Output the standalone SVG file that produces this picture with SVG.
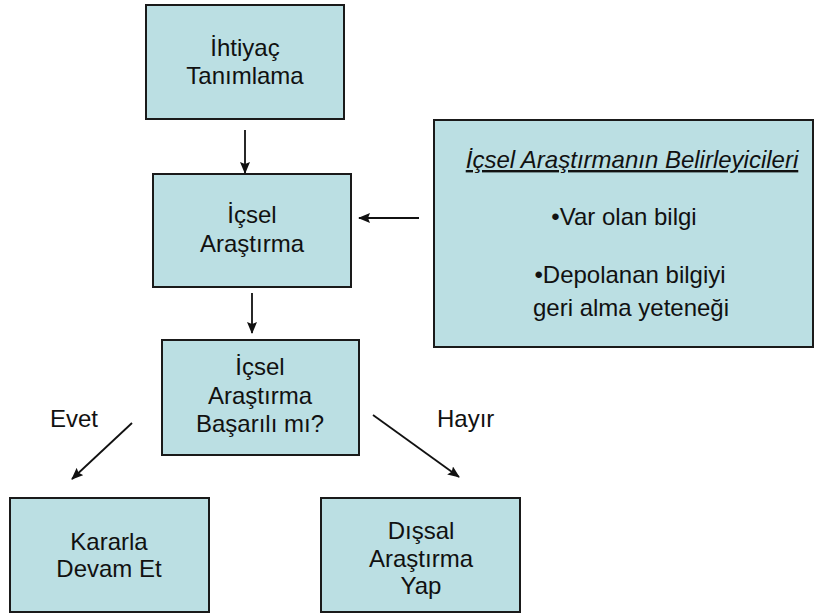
<svg xmlns="http://www.w3.org/2000/svg" width="815" height="615" viewBox="0 0 815 615">
  <style>
    .box { fill: #bbdfe3; stroke: #1a1a1a; stroke-width: 2; }
    .lbl { font-family: "Liberation Sans", Arial, sans-serif; font-size: 24px; fill: #111; text-anchor: middle; }
    .side { font-family: "Liberation Sans", Arial, sans-serif; font-size: 24px; fill: #111; }
    .edge { stroke: #111; stroke-width: 1.8; fill: none; marker-end: url(#arrow); }
  </style>
  <defs>
    <marker id="arrow" viewBox="0 0 12 10" refX="11" refY="5" markerWidth="12" markerHeight="10" orient="auto" markerUnits="userSpaceOnUse">
      <path d="M0,0 L12,5 L0,10 L2,5 Z" fill="#111"/>
    </marker>
  </defs>
  <rect width="815" height="615" fill="#fff"/>

  <g id="ihtiyac-tanimlama">
    <rect class="box" x="146" y="5" width="198" height="114"/>
    <text class="lbl" x="245" y="56">İhtiyaç</text>
    <text class="lbl" x="245" y="84">Tanımlama</text>
  </g>

  <g id="icsel-arastirma">
    <rect class="box" x="153" y="174" width="198" height="113"/>
    <text class="lbl" x="252" y="223">İçsel</text>
    <text class="lbl" x="252" y="252">Araştırma</text>
  </g>

  <g id="belirleyiciler">
    <rect class="box" x="434" y="120" width="379" height="227"/>
    <text class="lbl" x="632" y="168" font-style="italic" text-decoration="underline">İçsel Araştırmanın Belirleyicileri</text>
    <text class="lbl" x="624" y="225">•Var olan bilgi</text>
    <text class="lbl" x="630" y="283">•Depolanan bilgiyi</text>
    <text class="lbl" x="631" y="316">geri alma yeteneği</text>
  </g>

  <g id="basarili-mi">
    <rect class="box" x="162" y="340" width="197" height="115"/>
    <text class="lbl" x="260" y="375">İçsel</text>
    <text class="lbl" x="260" y="404">Araştırma</text>
    <text class="lbl" x="260" y="432">Başarılı mı?</text>
  </g>

  <g id="kararla-devam-et">
    <rect class="box" x="10" y="498" width="199" height="114"/>
    <text class="lbl" x="109" y="550">Kararla</text>
    <text class="lbl" x="109" y="577">Devam Et</text>
  </g>

  <g id="dissal-arastirma-yap">
    <rect class="box" x="321" y="498" width="199" height="114"/>
    <text class="lbl" x="421" y="539">Dışsal</text>
    <text class="lbl" x="421" y="567">Araştırma</text>
    <text class="lbl" x="421" y="594">Yap</text>
  </g>

  <g id="connectors">
    <line class="edge" x1="245" y1="130" x2="245" y2="173"/>
    <line class="edge" x1="419" y1="218" x2="359" y2="218"/>
    <line class="edge" x1="252" y1="293" x2="252" y2="333"/>
    <line class="edge" x1="132" y1="423" x2="72" y2="479"/>
    <line class="edge" x1="373" y1="415" x2="459" y2="477"/>
    <text class="side" x="50" y="427">Evet</text>
    <text class="side" x="437" y="427">Hayır</text>
  </g>
</svg>
